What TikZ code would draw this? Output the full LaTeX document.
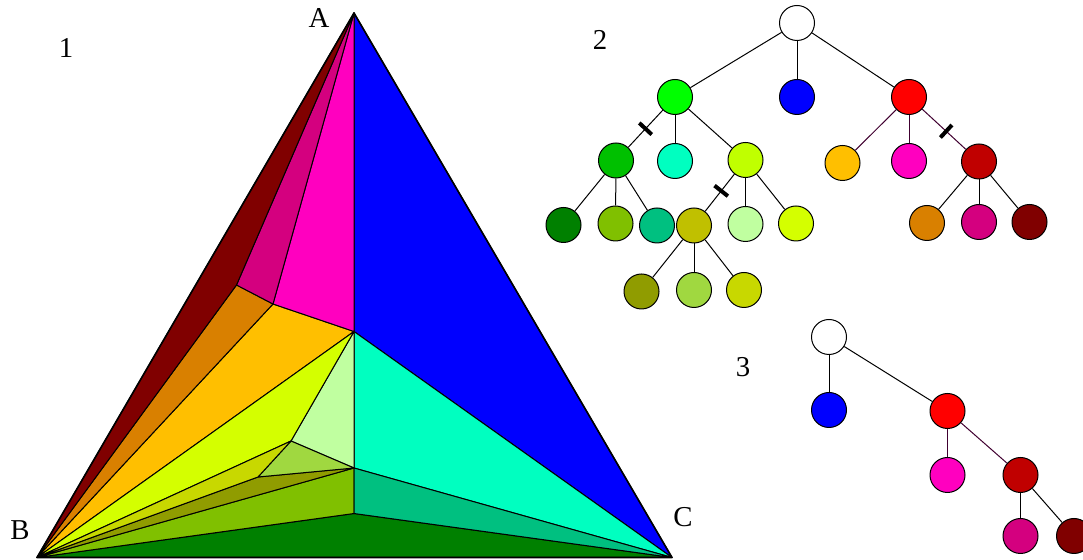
\documentclass[tikz,border=0pt]{standalone}
\usepackage{fontspec}
\setmainfont{Liberation Serif}
\definecolor{cgreen}{HTML}{00FF00}
\definecolor{cblue}{HTML}{0000FF}
\definecolor{cred}{HTML}{FF0000}
\definecolor{cdgreen}{HTML}{00C000}
\definecolor{ccyan}{HTML}{00FFC0}
\definecolor{clime}{HTML}{C0FF00}
\definecolor{corange}{HTML}{FFBF00}
\definecolor{cmagenta}{HTML}{FF00BF}
\definecolor{ccrimson}{HTML}{C00000}
\definecolor{cforest}{HTML}{008000}
\definecolor{colgreen}{HTML}{80C000}
\definecolor{cteal}{HTML}{00C080}
\definecolor{colive}{HTML}{C0C000}
\definecolor{cmint}{HTML}{C0FFA0}
\definecolor{cyellow}{HTML}{D4FF00}
\definecolor{cdorange}{HTML}{D98000}
\definecolor{cdmagenta}{HTML}{D4007F}
\definecolor{cmaroon}{HTML}{800000}
\definecolor{cdolive}{HTML}{909C00}
\definecolor{cygreen}{HTML}{A0D840}
\definecolor{cmustard}{HTML}{C8D800}
\definecolor{plum}{HTML}{400030}
\tikzset{
  region/.style = {draw, line width=0.5pt, line join=round},
  tnode/.style  = {circle, draw, line width=0.5pt, minimum size=17.5pt, inner sep=0pt},
  branch/.style = {line width=0.5pt},
  cut/.style    = {fill=black, inner sep=0pt, minimum width=2pt, minimum height=8.5pt, sloped},
  lbl/.style    = {font=\Large}
}

\begin{document}
\begin{tikzpicture}[x=0.5pt, y=-0.5pt]
  \useasboundingbox (0,0) rectangle (1083,560);
  \clip (0,0) rectangle (1083,560);

  % triangle 1
  \coordinate (A) at (354,13);
  \coordinate (B) at (37,557.5);
  \coordinate (C) at (672,557.5);
  \coordinate (O) at (354,331.5);
  \coordinate (P) at (273,304);
  \coordinate (Q) at (236.5,285);
  \coordinate (R) at (354,468);
  \coordinate (S) at (354,513.5);
  \coordinate (U) at (291,441);
  \coordinate (T) at (258,477);

  \filldraw[region, fill=cblue]     (A) -- (O) -- (C) -- cycle;
  \filldraw[region, fill=corange]   (B) -- (P) -- (O) -- cycle;
  \filldraw[region, fill=cmagenta]  (A) -- (P) -- (O) -- cycle;
  \filldraw[region, fill=cdorange]  (B) -- (Q) -- (P) -- cycle;
  \filldraw[region, fill=cdmagenta] (A) -- (Q) -- (P) -- cycle;
  \filldraw[region, fill=cmaroon]   (A) -- (B) -- (Q) -- cycle;
  \filldraw[region, fill=ccyan]     (O) -- (R) -- (C) -- cycle;
  \filldraw[region, fill=cforest]   (B) -- (S) -- (C) -- cycle;
  \filldraw[region, fill=colgreen]  (B) -- (S) -- (R) -- cycle;
  \filldraw[region, fill=cteal]     (R) -- (S) -- (C) -- cycle;
  \filldraw[region, fill=cmint]     (O) -- (U) -- (R) -- cycle;
  \filldraw[region, fill=cyellow]   (B) -- (O) -- (U) -- cycle;
  \filldraw[region, fill=cdolive]   (B) -- (T) -- (R) -- cycle;
  \filldraw[region, fill=cygreen]   (U) -- (T) -- (R) -- cycle;
  \filldraw[region, fill=cmustard]  (B) -- (U) -- (T) -- cycle;
  \draw[line width=0.8pt, line join=round] (A) -- (B) -- (C) -- cycle;

  \node[lbl] (n1) at (66,48) {1};
  \node[lbl] (la) at (319,18) {A};
  \node[lbl] (lb) at (20,530) {B};
  \node[lbl] (lc) at (683,517) {C};

  % tree 2
  \node[lbl] (n2) at (600,40) {2};
  \node[tnode, fill=white]     (r)   at (797,23) {};
  \node[tnode, fill=cgreen]    (g)   at (675,97) {};
  \node[tnode, fill=cblue]     (b)   at (797,97) {};
  \node[tnode, fill=cred]      (rd)  at (909,97) {};
  \node[tnode, fill=cdgreen]   (g1)  at (616,160.5) {};
  \node[tnode, fill=ccyan]     (g2)  at (675,161) {};
  \node[tnode, fill=clime]     (g3)  at (745.5,160) {};
  \node[tnode, fill=corange]   (rd1) at (842.5,163) {};
  \node[tnode, fill=cmagenta]  (rd2) at (909,161) {};
  \node[tnode, fill=ccrimson]  (rd3) at (979,161.5) {};
  \node[tnode, fill=cforest]   (g11) at (563.5,225) {};
  \node[tnode, fill=colgreen]  (g12) at (615.5,223.5) {};
  \node[tnode, fill=cteal]     (g13) at (657,225.5) {};
  \node[tnode, fill=colive]    (g31) at (694,225.5) {};
  \node[tnode, fill=cmint]     (g32) at (745.5,224) {};
  \node[tnode, fill=cyellow]   (g33) at (796,223.5) {};
  \node[tnode, fill=cdorange]  (r31) at (927,223) {};
  \node[tnode, fill=cdmagenta] (r32) at (979,222) {};
  \node[tnode, fill=cmaroon]   (r33) at (1029.5,222) {};
  \node[tnode, fill=cdolive]   (g311) at (641.5,291.5) {};
  \node[tnode, fill=cygreen]   (g312) at (694,290) {};
  \node[tnode, fill=cmustard]  (g313) at (744,290) {};

  \draw[branch] (r) -- (g);
  \draw[branch] (r) -- (b);
  \draw[branch] (r) -- (rd);
  \draw[branch] (g) -- node[cut] {} (g1);
  \draw[branch] (g) -- (g2);
  \draw[branch] (g) -- (g3);
  \draw[branch, plum] (rd) -- (rd1);
  \draw[branch, plum] (rd) -- (rd2);
  \draw[branch, plum] (rd) -- node[cut, pos=0.55] {} (rd3);
  \draw[branch] (g1) -- (g11);
  \draw[branch] (g1) -- (g12);
  \draw[branch] (g1) -- (g13);
  \draw[branch] (g3) -- node[cut, pos=0.45] {} (g31);
  \draw[branch] (g3) -- (g32);
  \draw[branch] (g3) -- (g33);
  \draw[branch] (rd3) -- (r31);
  \draw[branch] (rd3) -- (r32);
  \draw[branch] (rd3) -- (r33);
  \draw[branch] (g31) -- (g311);
  \draw[branch] (g31) -- (g312);
  \draw[branch] (g31) -- (g313);

  % tree 3
  \node[lbl] (n3) at (743,367) {3};
  \node[tnode, fill=white]     (s)   at (829,337) {};
  \node[tnode, fill=cblue]     (sb)  at (829,410) {};
  \node[tnode, fill=cred]      (sr)  at (947.5,411) {};
  \node[tnode, fill=cmagenta]  (sr1) at (947.5,475) {};
  \node[tnode, fill=ccrimson]  (sr2) at (1020.5,475) {};
  \node[tnode, fill=cdmagenta] (sr21) at (1020.5,536) {};
  \node[tnode, fill=cmaroon]   (sr22) at (1074,536) {};

  \draw[branch] (s) -- (sb);
  \draw[branch] (s) -- (sr);
  \draw[branch, plum] (sr) -- (sr1);
  \draw[branch, plum] (sr) -- (sr2);
  \draw[branch] (sr2) -- (sr21);
  \draw[branch] (sr2) -- (sr22);
\end{tikzpicture}
\end{document}
